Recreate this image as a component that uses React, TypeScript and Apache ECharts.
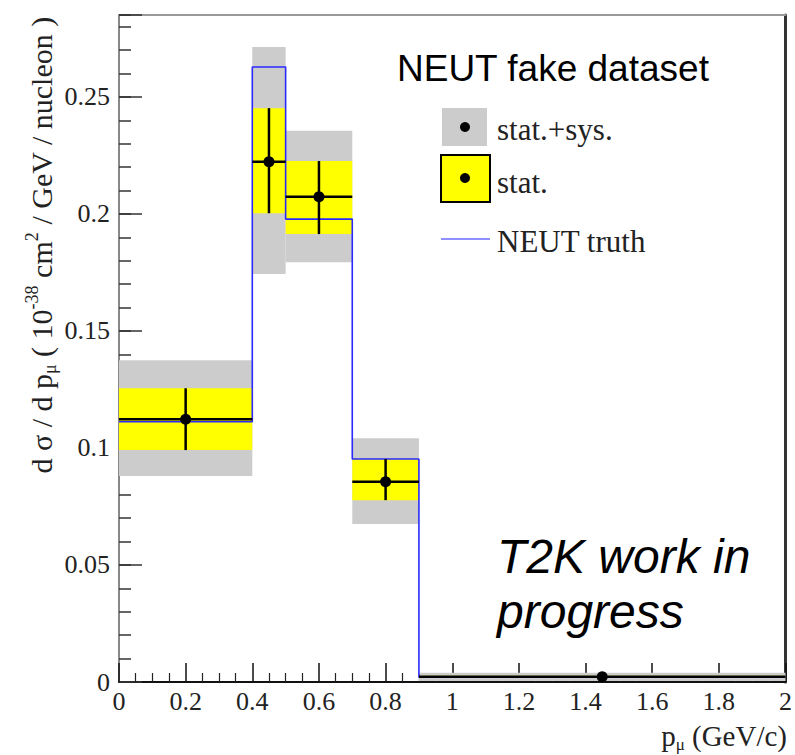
import React, { useEffect, useRef } from "react";
import * as echarts from "echarts";

// Muon-momentum bins (GeV/c)
const binEdges = [0, 0.4, 0.5, 0.7, 0.9, 2.0];
// Unfolded fake-data cross section per bin
const measured = [0.1123, 0.2223, 0.2073, 0.0856, 0.0022];
// Statistical band (lower / upper)
const statLow = [0.0991, 0.2003, 0.1914, 0.0777, 0.0017];
const statHigh = [0.1255, 0.2452, 0.2226, 0.0953, 0.0027];
// Statistical + systematic band (lower / upper)
const totalLow = [0.088, 0.1743, 0.1794, 0.0675, 0.0004];
const totalHigh = [0.1375, 0.2713, 0.2355, 0.1042, 0.004];
// Generator truth
const truth = [0.1112, 0.2628, 0.1978, 0.0953, 0.0021];

const legendLabels = ["stat.+sys.", "stat.", "NEUT truth"];
const Y_MAX = 0.285;

const SERIF = '"Liberation Serif", "Times New Roman", serif';
const SANS = '"Liberation Sans", Arial, Helvetica, sans-serif';

const bandRows = (lo: number[], hi: number[]) =>
  lo.map((l, i) => [binEdges[i], binEdges[i + 1], l, hi[i]]);

const rectRender = (fill: string) => (params: any, api: any) => {
  const p0 = api.coord([api.value(0), api.value(3)]);
  const p1 = api.coord([api.value(1), api.value(2)]);
  return {
    type: "rect",
    shape: { x: p0[0], y: p0[1], width: p1[0] - p0[0], height: p1[1] - p0[1] },
    style: { fill },
  };
};

export default function App() {
  const ref = useRef<HTMLDivElement>(null);

  useEffect(() => {
    const chart = echarts.init(ref.current!, null, { renderer: "svg" });

    const truthLine: number[][] = [];
    truth.forEach((v, i) => {
      truthLine.push([binEdges[i], v]);
      truthLine.push([binEdges[i + 1], v]);
    });

    const pointRows = measured.map((v, i) => [
      binEdges[i],
      binEdges[i + 1],
      (binEdges[i] + binEdges[i + 1]) / 2,
      v,
      statLow[i],
      statHigh[i],
    ]);

    const isMajor = (v: number) => Math.abs(v / 0.05 - Math.round(v / 0.05)) < 1e-6;

    const option: any = {
      animation: false,
      backgroundColor: "#ffffff",
      grid: { left: 119, top: 15, width: 670, height: 667 },
      xAxis: [
        {
          type: "value",
          min: 0,
          max: 2,
          interval: 0.2,
          position: "bottom",
          axisLine: { show: true, onZero: false, lineStyle: { color: "#111", width: 2 } },
          axisTick: { show: true, inside: true, length: 19, lineStyle: { color: "#111", width: 1.5 } },
          minorTick: { show: true, splitNumber: 4, length: 9, lineStyle: { color: "#222", width: 1.2 } },
          splitLine: { show: false },
          axisLabel: { fontFamily: SERIF, fontSize: 26, color: "#222", margin: 6 },
        },
        {
          type: "value",
          min: 0,
          max: 2,
          position: "top",
          axisLine: { show: true, onZero: false, lineStyle: { color: "#999", width: 2 } },
          axisTick: { show: false },
          axisLabel: { show: false },
          splitLine: { show: false },
        },
      ],
      yAxis: [
        {
          type: "value",
          min: 0,
          max: Y_MAX,
          interval: 0.05,
          position: "left",
          axisLine: { show: true, onZero: false, lineStyle: { color: "#888", width: 2 } },
          axisTick: { show: true, inside: true, length: 23, lineStyle: { color: "#333", width: 1.5 } },
          axisLabel: {
            fontFamily: SERIF,
            fontSize: 26,
            color: "#222",
            margin: 9,
            formatter: (v: number) => (isMajor(v) ? String(+v.toFixed(2)) : ""),
          },
          splitLine: { show: false },
        },
        {
          type: "value",
          min: 0,
          max: Y_MAX,
          interval: 0.01,
          position: "left",
          axisLine: { show: false },
          axisTick: { show: true, inside: true, length: 12, lineStyle: { color: "#333", width: 1.5 } },
          axisLabel: { show: false },
          splitLine: { show: false },
        },
        {
          type: "value",
          min: 0,
          max: Y_MAX,
          position: "right",
          axisLine: { show: true, onZero: false, lineStyle: { color: "#333", width: 3 } },
          axisTick: { show: false },
          axisLabel: { show: false },
          splitLine: { show: false },
        },
      ],
      series: [
        {
          name: legendLabels[0],
          type: "custom",
          xAxisIndex: 0,
          yAxisIndex: 0,
          renderItem: rectRender("#cccccc"),
          encode: { x: [0, 1], y: [2, 3] },
          data: bandRows(totalLow, totalHigh),
          z: 1,
        },
        {
          name: legendLabels[1],
          type: "custom",
          xAxisIndex: 0,
          yAxisIndex: 0,
          renderItem: rectRender("#ffff00"),
          encode: { x: [0, 1], y: [2, 3] },
          data: bandRows(statLow, statHigh),
          z: 2,
        },
        {
          name: legendLabels[2],
          type: "line",
          xAxisIndex: 0,
          yAxisIndex: 0,
          data: truthLine,
          showSymbol: false,
          lineStyle: { color: "#2a2aff", width: 1.6 },
          z: 3,
        },
        {
          name: "data",
          type: "custom",
          xAxisIndex: 0,
          yAxisIndex: 0,
          encode: { x: [0, 1], y: [3, 4, 5] },
          data: pointRows,
          z: 4,
          renderItem: (params: any, api: any) => {
            const a = api.coord([api.value(0), api.value(3)]);
            const b = api.coord([api.value(1), api.value(3)]);
            const lo = api.coord([api.value(2), api.value(4)]);
            const hi = api.coord([api.value(2), api.value(5)]);
            const c = api.coord([api.value(2), api.value(3)]);
            const line = { stroke: "#000", lineWidth: 2.5 };
            return {
              type: "group",
              children: [
                { type: "line", shape: { x1: a[0], y1: a[1], x2: b[0], y2: b[1] }, style: line },
                { type: "line", shape: { x1: lo[0], y1: lo[1], x2: hi[0], y2: hi[1] }, style: line },
                { type: "circle", shape: { cx: c[0], cy: c[1], r: 5.5 }, style: { fill: "#000" } },
              ],
            };
          },
        },
      ],
      graphic: [
        {
          type: "text",
          x: 397,
          y: 68,
          style: { text: "NEUT fake dataset", font: `37px ${SANS}`, fill: "#000", verticalAlign: "middle" },
        },
        // legend
        { type: "rect", shape: { x: 442, y: 108, width: 45, height: 38 }, style: { fill: "#cccccc" } },
        { type: "circle", shape: { cx: 465, cy: 127, r: 5 }, style: { fill: "#000" } },
        {
          type: "rect",
          shape: { x: 441, y: 155, width: 49, height: 47 },
          style: { fill: "#ffff00", stroke: "#000", lineWidth: 2 },
        },
        { type: "circle", shape: { cx: 465, cy: 178, r: 5 }, style: { fill: "#000" } },
        { type: "line", shape: { x1: 441, y1: 239, x2: 490, y2: 239 }, style: { stroke: "#6a6aff", lineWidth: 1.5 } },
        {
          type: "text",
          x: 497,
          y: 129,
          style: { text: legendLabels[0], font: `31px ${SERIF}`, fill: "#222", verticalAlign: "middle" },
        },
        {
          type: "text",
          x: 497,
          y: 182,
          style: { text: legendLabels[1], font: `31px ${SERIF}`, fill: "#222", verticalAlign: "middle" },
        },
        {
          type: "text",
          x: 497,
          y: 241,
          style: { text: legendLabels[2], font: `31px ${SERIF}`, fill: "#222", verticalAlign: "middle" },
        },
        {
          type: "text",
          x: 497,
          y: 556,
          style: { text: "T2K work in", font: `italic 48px ${SANS}`, fill: "#000", verticalAlign: "middle" },
        },
        {
          type: "text",
          x: 497,
          y: 611,
          style: { text: "progress", font: `italic 48px ${SANS}`, fill: "#000", verticalAlign: "middle" },
        },
        // y-axis title
        {
          type: "text",
          x: 41,
          y: 245,
          rotation: Math.PI / 2,
          style: {
            text: "{n|d σ / d p}{sub|μ}{n| ( 10}{sup|-38}{n| cm}{sup|2}{n| / GeV / nucleon )}",
            font: `30px ${SERIF}`,
            align: "center",
            verticalAlign: "middle",
            fill: "#222",
            rich: {
              n: { fontFamily: SERIF, fontSize: 30, lineHeight: 36, fill: "#222" },
              sub: { fontFamily: SERIF, fontSize: 18, lineHeight: 20, verticalAlign: "bottom", fill: "#222" },
              sup: { fontFamily: SERIF, fontSize: 18, lineHeight: 20, verticalAlign: "top", fill: "#222" },
            },
          },
        },
        // x-axis title
        {
          type: "text",
          x: 787,
          y: 736,
          style: {
            text: "{n|p}{sub|μ}{n| (GeV/c)}",
            font: `29px ${SERIF}`,
            align: "right",
            verticalAlign: "middle",
            fill: "#222",
            rich: {
              n: { fontFamily: SERIF, fontSize: 29, lineHeight: 34, fill: "#222" },
              sub: { fontFamily: SERIF, fontSize: 17, lineHeight: 18, verticalAlign: "bottom", fill: "#222" },
            },
          },
        },
      ],
    };

    chart.setOption(option);
    return () => chart.dispose();
  }, []);

  return (
    <div
      ref={ref}
      style={{ position: "absolute", left: 0, top: 0, width: 795, height: 755, background: "#fff" }}
    />
  );
}
